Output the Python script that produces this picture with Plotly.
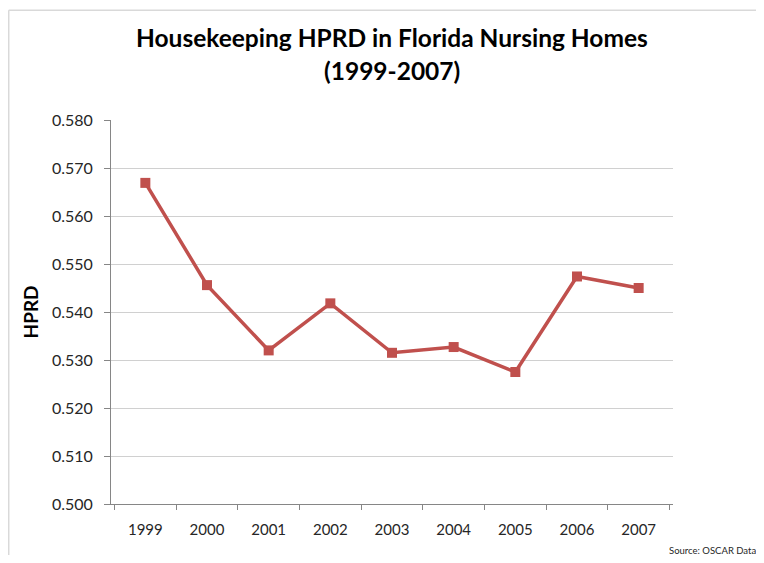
import plotly.graph_objects as go

# housekeeping hours per resident day, florida nursing homes (OSCAR data)
years = ['1999', '2000', '2001', '2002', '2003', '2004', '2005', '2006', '2007']
hprd = [0.5669, 0.5456, 0.5320, 0.5418, 0.5315, 0.5327, 0.5275, 0.5474, 0.5450]

y_ticks = [0.50, 0.51, 0.52, 0.53, 0.54, 0.55, 0.56, 0.57, 0.58]

fig = go.Figure()

fig.add_trace(go.Scatter(
    x=years,
    y=hprd,
    mode='lines+markers',
    line=dict(color='#C0504D', width=3.5),
    marker=dict(symbol='square', size=10, color='#C0504D'),
    showlegend=False,
))

# page body has an 8px margin, so the figure is a bit smaller and margins shifted
fig.update_layout(
    width=756,
    height=547,
    paper_bgcolor='white',
    plot_bgcolor='white',
    margin=dict(l=103, r=91, t=112, b=51),
    font=dict(family='Lato', color='#262626'),
    xaxis=dict(
        type='category',
        showline=True, linecolor='#868686', linewidth=1,
        ticks='outside', tickson='boundaries', ticklen=5, tickcolor='#868686',
        showgrid=False,
        ticklabelstandoff=12,
        tickfont=dict(size=15, color='#262626'),
        automargin=False,
    ),
    yaxis=dict(
        range=[0.5, 0.58],
        tickvals=y_ticks,
        tickformat='.3f',
        showline=True, linecolor='#868686', linewidth=1,
        ticks='outside', ticklen=6, tickcolor='#868686',
        gridcolor='#D0D0D0', gridwidth=1,
        zeroline=False,
        ticklabelstandoff=8,
        tickfont=dict(size=16, color='#262626'),
        automargin=False,
    ),
    annotations=[
        dict(text='<b>Housekeeping HPRD in Florida Nursing Homes</b>',
             xref='paper', yref='paper', x=0.5, y=1.216,
             xanchor='center', yanchor='middle', showarrow=False,
             font=dict(size=24.5, color='#000000')),
        dict(text='<b>(1999-2007)</b>',
             xref='paper', yref='paper', x=0.5, y=1.128,
             xanchor='center', yanchor='middle', showarrow=False,
             font=dict(size=24.5, color='#000000')),
        dict(text='<b>HPRD</b>',
             xref='paper', yref='paper', x=-0.145, y=0.5,
             xanchor='center', yanchor='middle', textangle=-90, showarrow=False,
             font=dict(size=19, color='#000000')),
        dict(text='Source: OSCAR Data',
             xref='paper', yref='paper', x=1.152, y=-0.12,
             xanchor='right', yanchor='middle', showarrow=False,
             font=dict(size=9.5, color='#262626')),
    ],
    # chart frame: only left and top edges show in the picture
    shapes=[
        dict(type='line', xref='paper', yref='paper',
             x0=-0.182, x1=-0.182, y0=-0.3, y1=1.286,
             line=dict(color='#D9D9D9', width=1.5), layer='below'),
        dict(type='line', xref='paper', yref='paper',
             x0=-0.182, x1=1.3, y0=1.286, y1=1.286,
             line=dict(color='#D9D9D9', width=1.5), layer='below'),
    ],
)

fig.write_html('out.html')
